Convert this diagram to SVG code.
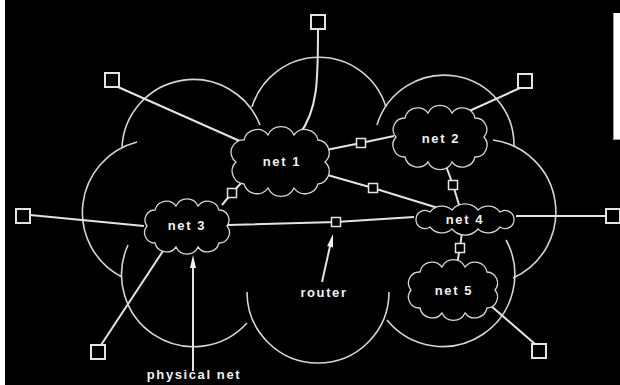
<svg xmlns="http://www.w3.org/2000/svg" width="620" height="385" viewBox="0 0 620 385">
  <style>
    .big { fill: none; stroke: #d6d6d6; stroke-width: 1.6; }
    .net { fill: #000; stroke: #d6d6d6; stroke-width: 1.3; }
    .link { fill: none; stroke: #e4e4e4; stroke-width: 2; }
    .host { fill: #000; stroke: #e4e4e4; stroke-width: 2; }
    .router { fill: #000; stroke: #e4e4e4; stroke-width: 1.5; }
    .lbl { font-family: "Liberation Sans", Arial, sans-serif; font-weight: bold; font-size: 13px; letter-spacing: 1.6px; fill: #f2f2f2; text-anchor: middle; }
    .arrowhead { fill: #f2f2f2; }
  </style>

  <rect x="0" y="0" width="620" height="385" fill="#000"/>
  <rect x="0" y="0" width="5" height="385" fill="#fff"/>
  <!-- partial white panel at the right edge -->
  <rect x="613" y="13" width="7" height="127" fill="#fff"/>
  <path d="M613.5,13 V139.5 H620" fill="none" stroke="#999" stroke-width="1"/>

  <!-- large internet cloud built from overlapping circle arcs -->
  <g id="internet">
    <path class="big" d="M122,147 A71.5,71.5 0 0 1 260,125"/>
    <path class="big" d="M252,107 A70,70 0 0 1 386,107"/>
    <path class="big" d="M377,125 A70,70 0 0 1 514,147"/>
    <path class="big" d="M493,140 A72.5,72.5 0 0 1 513,278"/>
    <path class="big" d="M506,240 A72,72 0 0 1 387,320"/>
    <path class="big" d="M247,292 A71,71 0 1 0 389,292"/>
    <path class="big" d="M128,245 A72,72 0 0 0 247,323"/>
    <path class="big" d="M137,142 A72.6,72.6 0 0 0 122,277"/>
  </g>

  <!-- connectors -->
  <g id="connectors">
    <line class="link" x1="118" y1="87" x2="242" y2="142"/>
    <path class="link" d="M318,29 C318,80 318,110 299,135"/>
    <line class="link" x1="520" y1="88" x2="467" y2="112"/>
    <line class="link" x1="30" y1="215" x2="144" y2="226"/>
    <line class="link" x1="606" y1="216" x2="516" y2="216"/>
    <line class="link" x1="101" y1="345" x2="163" y2="251"/>
    <line class="link" x1="535" y1="344" x2="490" y2="305"/>
    <polyline class="link" points="326,150 361,143 394,136"/>
    <polyline class="link" points="324,174 373,188 438,208"/>
    <polyline class="link" points="446,166 453,185 460,208"/>
    <polyline class="link" points="243,181 232,193 222,205"/>
    <polyline class="link" points="228,225 336,222 414,217"/>
    <polyline class="link" points="462,232 460,248 457,264"/>
    <!-- pointer arrows -->
    <line class="link" x1="193" y1="371" x2="193" y2="264" stroke-width="1.5"/>
    <polygon class="arrowhead" points="193,255 196,268 190,268"/>
    <line class="link" x1="322" y1="282" x2="330.5" y2="244" stroke-width="1.5"/>
    <polygon class="arrowhead" points="333,234 333,247.4 327.2,246"/>
  </g>

  <!-- physical networks -->
  <g id="net1">
    <path class="net" d="M244,140 A13.5,13.5 0 0 1 268,135 A14.3,14.3 0 0 1 294,135 A13.5,13.5 0 0 1 318,140 A12.7,12.7 0 0 1 325,162 A12.7,12.7 0 0 1 318,184 A13.5,13.5 0 0 1 294,188 A14.3,14.3 0 0 1 268,188 A13.5,13.5 0 0 1 244,184 A12.9,12.9 0 0 1 236,162 A12.2,12.2 0 0 1 244,140 Z"/>
    <text class="lbl" x="282" y="166">net 1</text>
  </g>
  <g id="net2">
    <path class="net" d="M405,118 A13,13 0 0 1 428,113 A13.2,13.2 0 0 1 452,113 A13,13 0 0 1 475,118 A11.5,11.5 0 0 1 484,137 A12,12 0 0 1 475,157 A13,13 0 0 1 452,162 A13.2,13.2 0 0 1 428,162 A13,13 0 0 1 405,157 A12,12 0 0 1 396,137 A11.5,11.5 0 0 1 405,118 Z"/>
    <text class="lbl" x="441" y="143">net 2</text>
  </g>
  <g id="net3">
    <path class="net" d="M155,210 A11.8,11.8 0 0 1 176,206 A12.1,12.1 0 0 1 198,206 A11.8,11.8 0 0 1 219,210 A10,10 0 0 1 227,226 A10.3,10.3 0 0 1 219,243 A11.8,11.8 0 0 1 198,247 A12.1,12.1 0 0 1 176,247 A11.8,11.8 0 0 1 155,243 A10.3,10.3 0 0 1 147,226 A10,10 0 0 1 155,210 Z"/>
    <text class="lbl" x="187" y="230">net 3</text>
  </g>
  <g id="net4">
    <path class="net" d="M430,212 A15,15 0 0 1 452,210 A17,17 0 0 1 478,210 A15,15 0 0 1 500,212 A9,9 0 0 1 514,219 A9,9 0 0 1 500,227 A15,15 0 0 1 478,229 A17,17 0 0 1 452,229 A15,15 0 0 1 430,227 A9,9 0 0 1 416,219 A9,9 0 0 1 430,212 Z"/>
    <text class="lbl" x="465" y="224">net 4</text>
  </g>
  <g id="net5">
    <path class="net" d="M420,272 A12.4,12.4 0 0 1 442,267 A12.6,12.6 0 0 1 465,267 A12.4,12.4 0 0 1 487,272 A11,11 0 0 1 495,290 A11,11 0 0 1 487,308 A12.4,12.4 0 0 1 465,313 A12.6,12.6 0 0 1 442,313 A12.4,12.4 0 0 1 420,308 A11,11 0 0 1 411,290 A11,11 0 0 1 420,272 Z"/>
    <text class="lbl" x="454" y="295">net 5</text>
  </g>

  <!-- routers -->
  <g id="router-1-2"><rect class="router" x="356.5" y="138.5" width="9" height="9"/></g>
  <g id="router-1-4"><rect class="router" x="368.5" y="183.5" width="9" height="9"/></g>
  <g id="router-2-4"><rect class="router" x="448.5" y="180.5" width="9" height="9"/></g>
  <g id="router-1-3"><rect class="router" x="227.5" y="188.5" width="9" height="9"/></g>
  <g id="router-3-4"><rect class="router" x="331.5" y="217.5" width="9" height="9"/></g>
  <g id="router-4-5"><rect class="router" x="455.5" y="243.5" width="9" height="9"/></g>

  <!-- hosts -->
  <g id="host-nw"><rect class="host" x="105" y="73" width="14" height="14"/></g>
  <g id="host-n"><rect class="host" x="311" y="15" width="14" height="14"/></g>
  <g id="host-ne"><rect class="host" x="518" y="74" width="14" height="14"/></g>
  <g id="host-w"><rect class="host" x="16" y="209" width="14" height="14"/></g>
  <g id="host-e"><rect class="host" x="606" y="209" width="14" height="14"/></g>
  <g id="host-sw"><rect class="host" x="91" y="345" width="14" height="14"/></g>
  <g id="host-se"><rect class="host" x="532" y="344" width="14" height="14"/></g>

  <!-- annotations -->
  <g id="label-router"><text class="lbl" x="324" y="297">router</text></g>
  <g id="label-physical-net"><text class="lbl" x="194" y="379">physical net</text></g>
</svg>
